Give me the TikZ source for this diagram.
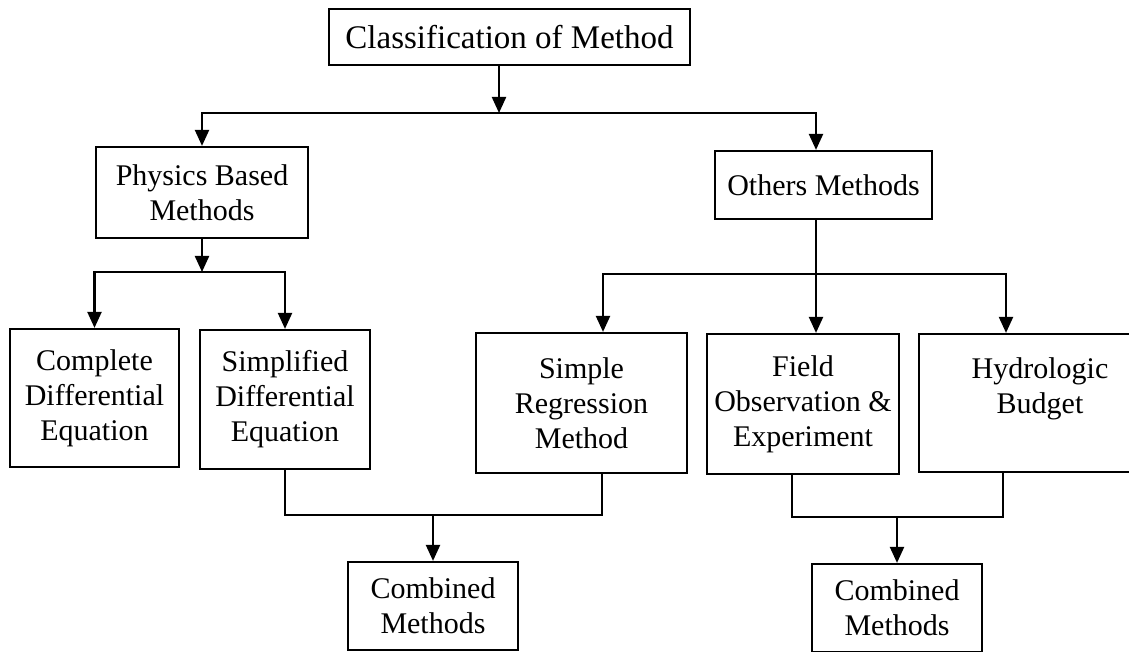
\documentclass[tikz,border=0pt]{standalone}
\usepackage{fontspec}
\setmainfont{Liberation Serif}
\usepackage{tikz}
\usetikzlibrary{arrows.meta, calc, positioning}

\tikzset{
	methodbox/.style={draw, line width=1.1pt, align=center, inner sep=0pt, font=\fontsize{15}{17.5}\selectfont},
	arr/.style={line width=1.1pt, -{Triangle[width=7pt,length=8pt]}},
	link/.style={line width=1.1pt}
}

\begin{document}
\begin{tikzpicture}[x=0.5pt, y=-0.5pt]
			\useasboundingbox (0,0) rectangle (1129,652);
			\clip (0,0) rectangle (1129,652);
			
			\node[methodbox, minimum width=180.5pt, minimum height=28pt, font=\fontsize{16.5}{19}\selectfont] (top) at (509.5,37) {Classification of Method};
			
			\node[methodbox, minimum width=106pt, minimum height=45.5pt] (phys) at (202,192.5) {Physics Based\\Methods};
			\node[methodbox, minimum width=108.5pt, minimum height=34pt] (oth) at (823.5,185) {Others Methods};
			
			\node[methodbox, minimum width=84.5pt, minimum height=69pt] (comp) at (94.5,398) {Complete\\Differential\\Equation};
			\node[methodbox, minimum width=85pt, minimum height=69.5pt] (simp) at (285,399.5) {Simplified\\Differential\\Equation};
			\node[methodbox, minimum width=105.5pt, minimum height=70pt] (reg) at (581.5,403) {Simple\\Regression\\Method};
			\node[methodbox, minimum width=96pt, minimum height=70pt] (fld) at (803,404) {Field\\Observation \&\\Experiment};
			\node[methodbox, minimum width=121pt, minimum height=69pt] (hyd) at (1040,403) {Hydrologic\\Budget\\\mbox{}};
			
			\node[methodbox, minimum width=85pt, minimum height=44pt] (comb1) at (433,606) {Combined\\Methods};
			\node[methodbox, minimum width=85pt, minimum height=44pt] (comb2) at (897,608) {Combined\\Methods};
			
			\coordinate (c0) at (499,113);
			\coordinate (c1) at (202,272);
			\coordinate (c2) at (816,274);
			\coordinate (c2a) at (603,274);
			\coordinate (c2b) at (1006,274);
			\coordinate (c3) at (433,515);
			\coordinate (c3r) at (602,515);
			\coordinate (c4) at (897,517);
			\coordinate (c4l) at (792,517);
			\coordinate (c4r) at (1003,517);
			
			\draw[arr] (top.south -| c0) -- (c0);
			\draw[arr] (c0) -| (phys.north);
			\draw[arr] (c0) -| (oth.north -| c2);
			
			\draw[arr] (phys) -- (c1);
			\draw[arr] (c1) -| (comp);
			\draw[arr] (c1) -| (simp);
			
			\draw[arr] (oth.south -| c2) -- (fld.north -| c2);
			\draw[arr] (c2) -- (c2a) -- (reg.north -| c2a);
			\draw[arr] (c2) -- (c2b) -- (hyd.north -| c2b);
			
			\draw[link] (simp) |- (c3r) -- (reg.south -| c3r);
			\draw[arr] (c3) -- (comb1);
			
			\draw[link] (fld.south -| c4l) -- (c4l) -- (c4r) -- (hyd.south -| c4r);
			\draw[arr] (c4) -- (comb2);
			
		\end{tikzpicture}
\end{document}
